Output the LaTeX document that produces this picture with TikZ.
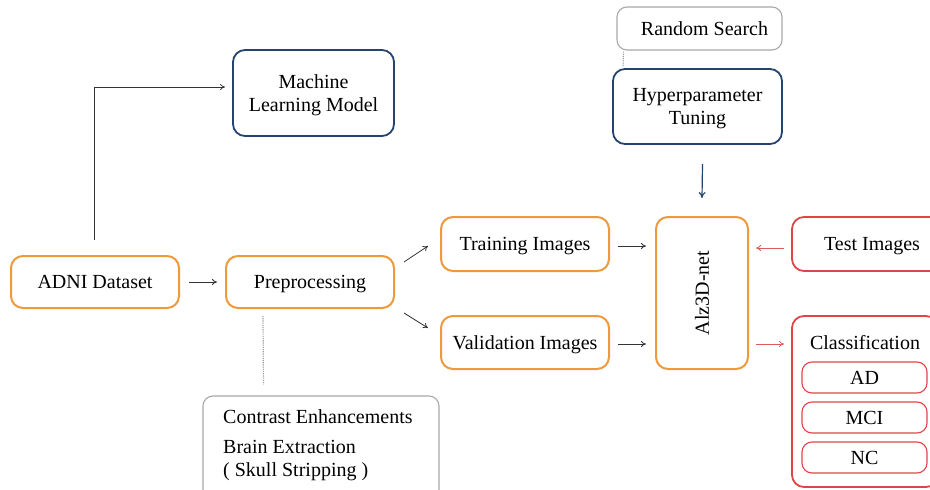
\documentclass[tikz,border=0pt]{standalone}
\usepackage{fontspec}
\setmainfont{Liberation Serif}
\usetikzlibrary{calc,arrows.meta}
\definecolor{orng}{HTML}{EE9A3A}
\definecolor{navy}{HTML}{25436F}
\definecolor{redb}{HTML}{E04545}
\definecolor{reda}{HTML}{DD5A5A}
\definecolor{grayb}{HTML}{A8A8A8}
\definecolor{grayd}{HTML}{9A9A9A}
\definecolor{arr}{HTML}{333333}
\tikzset{
  box/.style={draw, rounded corners=12pt, inner sep=0pt, align=center,
    text depth=0pt, font=\fontsize{20}{23}\selectfont},
  obox/.style={box, draw=orng, line width=2pt},
  bbox/.style={box, draw=navy, line width=1.8pt},
  rbox/.style={box, draw=redb, line width=1.8pt},
  rsmall/.style={box, draw=redb, line width=1.1pt, rounded corners=10pt},
  gbox/.style={box, draw=grayb, line width=1.1pt, rounded corners=10pt},
  txt/.style={inner sep=0pt, font=\fontsize{20}{23}\selectfont},
  conn/.style={-{To[length=5pt,width=6pt]}, arr, line width=0.8pt},
  rconn/.style={-{To[length=5pt,width=6pt]}, reda, line width=0.8pt},
  bconn/.style={-{To[length=6pt,width=7pt]}, navy, line width=1.2pt},
  dotl/.style={grayd, line width=1.2pt, dash pattern=on 1.1pt off 1.1pt}
}
\begin{document}
\begin{tikzpicture}[x=1pt,y=-1pt]
\path[use as bounding box] (0,0) rectangle (930,490);
\clip (0,0) rectangle (930,490);

% nodes
\node[bbox, minimum width=161pt, minimum height=86pt] (ml) at (313.5,93) {Machine\\Learning Model};
\node[gbox, minimum width=165pt, minimum height=43pt] (rand) at (699.5,28.5) {\hspace*{10pt}Random Search};
\node[bbox, minimum width=169pt, minimum height=75pt] (hyper) at (697.5,106.5) {Hyperparameter\\Tuning};
\node[obox, minimum width=168pt, minimum height=52pt] (adni) at (95,282) {ADNI Dataset};
\node[obox, minimum width=168pt, minimum height=52pt] (prep) at (310,282) {Preprocessing};
\node[obox, minimum width=168pt, minimum height=54pt] (train) at (525,244) {Training Images};
\node[obox, minimum width=168pt, minimum height=53pt] (val) at (525,342.5) {Validation Images};
\node[obox, minimum width=92pt, minimum height=152pt] (alz) at (702,293) {};
\node[txt, rotate=90] (alzt) at (702,293) {Alz3D-net};
\node[rbox, minimum width=160pt, minimum height=54pt] (test) at (872,244) {Test Images};
\node[rbox, minimum width=146pt, minimum height=171pt] (cls) at (865,401.5) {};
\node[txt] (clst) at (865,343) {Classification};
\node[rsmall, minimum width=125pt, minimum height=31pt] (ad) at (864.5,377.5) {AD};
\node[rsmall, minimum width=125pt, minimum height=31pt] (mci) at (864.5,417.5) {MCI};
\node[rsmall, minimum width=125pt, minimum height=31pt] (nc) at (864.5,457.5) {NC};
\node[gbox, minimum width=236pt, minimum height=120pt] (det) at (321,456) {};
\node[txt, anchor=north west, align=left] (dett) at (223,409.5)
  {Contrast Enhancements\\[7pt]Brain Extraction\\( Skull Stripping )};

% connectors
\draw[conn] ($(adni.north)+(-1,-15)$) |- ($(ml.west)+(-7,-6)$);
\draw[conn, shorten <=9pt, shorten >=8pt] (adni) -- (prep);
\draw[conn] ($(prep.north east)+(9,7)$) -- ($(train.west)+(-12,2)$);
\draw[conn] ($(prep.south east)+(9,4)$) -- ($(val.west)+(-12,-14.5)$);
\draw[conn] ($(train.east)+(8,2)$) -- ($(alz.west)+(-9,-47)$);
\draw[conn] ($(val.east)+(8,1.5)$) -- ($(alz.west)+(-9,51)$);
\draw[rconn] ($(test.west)+(-7,4)$) -- ($(alz.east)+(7,-45)$);
\draw[rconn] ($(alz.east)+(7,51)$) -- ($(cls.west)+(-7,-57.5)$);
\draw[bconn] ($(hyper.south)+(5,19)$) -- ($(alz.north)+(0,-18)$);
\draw[dotl] ($(rand.south west)+(7,1)$) -- ($(hyper.north west)+(11,-1)$);
\draw[dotl] ($(prep.south west)+(38,7)$) -- ($(det.north west)+(61,-11)$);
\end{tikzpicture}
\end{document}
